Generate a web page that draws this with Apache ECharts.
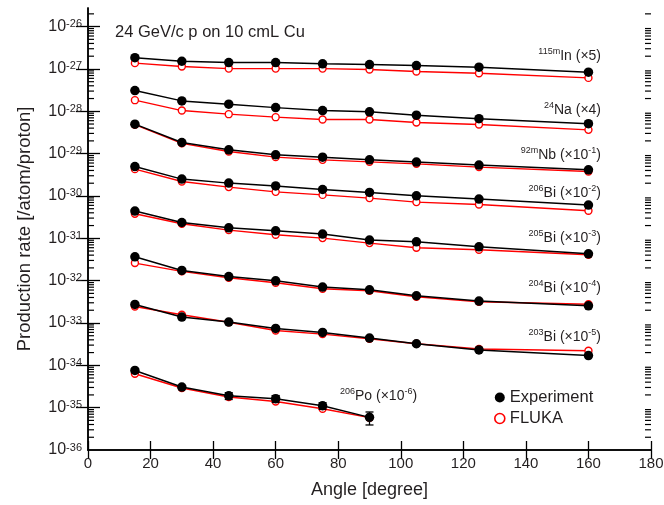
<!DOCTYPE html>
<html><head><meta charset="utf-8">
<script src="https://cdn.jsdelivr.net/npm/echarts@6/dist/echarts.min.js"></script>
<style>html,body{margin:0;padding:0;background:#fff}#c{width:664px;height:505px}</style>
</head><body><div id="c"></div>
<script>
const angles = [15, 30, 45, 60, 75, 90, 105, 125, 160];
const poAngles = [15, 30, 45, 60, 75, 90];

const in115Exp = [1.85e-27, 1.52e-27, 1.41e-27, 1.41e-27, 1.32e-27, 1.27e-27, 1.20e-27, 1.10e-27, 8.4e-28];
const in115Fluka = [1.37e-27, 1.14e-27, 1.02e-27, 1.02e-27, 1.02e-27, 9.7e-28, 8.7e-28, 7.9e-28, 6.15e-28];
const na24Exp = [3.08e-28, 1.76e-28, 1.47e-28, 1.22e-28, 1.04e-28, 9.7e-29, 8.1e-29, 6.7e-29, 5.1e-29];
const na24Fluka = [1.83e-28, 1.04e-28, 8.55e-29, 7.26e-29, 6.38e-29, 6.38e-29, 5.42e-29, 4.86e-29, 3.64e-29];
const nb92Exp = [4.97e-29, 1.83e-29, 1.23e-29, 9.36e-30, 8.26e-30, 7.13e-30, 6.30e-30, 5.35e-30, 4.14e-30];
const nb92Fluka = [4.83e-29, 1.75e-29, 1.12e-29, 8.26e-30, 7.13e-30, 6.40e-30, 5.74e-30, 4.80e-30, 3.78e-30];
const bi206Exp = [4.95e-30, 2.50e-30, 2.01e-30, 1.73e-30, 1.42e-30, 1.21e-30, 1.01e-30, 8.42e-31, 6.08e-31];
const bi206Fluka = [4.30e-30, 2.19e-30, 1.62e-30, 1.25e-30, 1.06e-30, 8.89e-31, 7.16e-31, 6.28e-31, 4.46e-31];
const bi205Exp = [4.39e-31, 2.36e-31, 1.77e-31, 1.50e-31, 1.26e-31, 9.06e-32, 8.26e-32, 6.30e-32, 4.31e-32];
const bi205Fluka = [3.79e-31, 2.20e-31, 1.56e-31, 1.21e-31, 1.01e-31, 7.71e-32, 5.97e-32, 5.35e-32, 4.08e-32];
const bi204Exp = [3.66e-32, 1.74e-32, 1.25e-32, 9.93e-33, 7.05e-33, 6.08e-33, 4.40e-33, 3.29e-33, 2.55e-33];
const bi204Fluka = [2.60e-32, 1.66e-32, 1.17e-32, 8.89e-33, 6.43e-33, 5.77e-33, 4.16e-33, 3.17e-33, 2.77e-33];
const bi203Exp = [2.74e-33, 1.38e-33, 1.05e-33, 7.43e-34, 5.97e-34, 4.41e-34, 3.23e-34, 2.31e-34, 1.70e-34];
const bi203Fluka = [2.45e-33, 1.56e-33, 1.04e-33, 6.66e-34, 5.47e-34, 4.24e-34, 3.23e-34, 2.42e-34, 2.21e-34];
const po206Exp = [7.57e-35, 3.07e-35, 1.91e-35, 1.63e-35, 1.11e-35, 5.9e-36];
const po206ExpErr = [0, 0, 3.5e-36, 3.0e-36, 2.0e-36, 2.0e-36];
const po206Fluka = [6.32e-35, 2.91e-35, 1.78e-35, 1.40e-35, 9.44e-36, 5.8e-36];

const xTicks = [0, 20, 40, 60, 80, 100, 120, 140, 160, 180];
const yMin = 1e-36, yMax = 2.75e-26;
const decadeExps = [-36, -35, -34, -33, -32, -31, -30, -29, -28, -27, -26];
const minorMults = [2, 3, 4, 5, 6, 7, 8, 9];

const isoLabels = [
  { sup: '115m', el: 'In', sc: ' (×5)', exp: null },
  { sup: '24', el: 'Na', sc: ' (×4)', exp: null },
  { sup: '92m', el: 'Nb', sc: ' (×10', exp: '-1' },
  { sup: '206', el: 'Bi', sc: ' (×10', exp: '-2' },
  { sup: '205', el: 'Bi', sc: ' (×10', exp: '-3' },
  { sup: '204', el: 'Bi', sc: ' (×10', exp: '-4' },
  { sup: '203', el: 'Bi', sc: ' (×10', exp: '-5' },
  { sup: '206', el: 'Po', sc: ' (×10', exp: '-6' }
];

const groups = [
  [angles, in115Exp, in115Fluka],
  [angles, na24Exp, na24Fluka],
  [angles, nb92Exp, nb92Fluka],
  [angles, bi206Exp, bi206Fluka],
  [angles, bi205Exp, bi205Fluka],
  [angles, bi204Exp, bi204Fluka],
  [angles, bi203Exp, bi203Fluka],
  [poAngles, po206Exp, po206Fluka]
];

const FONT = '"Liberation Sans", Arial, Helvetica, sans-serif';
const TXT = '#231f20';

const minorTicks = [];
decadeExps.forEach(e => minorMults.forEach(m => {
  const v = m * Math.pow(10, e);
  if (v <= yMax) minorTicks.push(v);
}));

const series = [];
groups.forEach(g => {
  const xs = g[0];
  series.push({
    type: 'line', name: 'FLUKA', z: 2,
    data: xs.map((a, i) => [a, g[2][i]]),
    symbol: 'circle', symbolSize: 7,
    itemStyle: { color: '#ffffff', borderColor: '#ff0000', borderWidth: 1.4 },
    lineStyle: { color: '#ff0000', width: 1.4 },
    emphasis: { disabled: true }
  });
});
groups.forEach(g => {
  const xs = g[0];
  series.push({
    type: 'line', name: 'Experiment', z: 3,
    data: xs.map((a, i) => [a, g[1][i]]),
    symbol: 'circle', symbolSize: 9.5,
    itemStyle: { color: '#000000' },
    lineStyle: { color: '#000000', width: 1.5 },
    emphasis: { disabled: true }
  });
});

// error bars for 206Po
series.push({
  type: 'custom', name: 'err', z: 4, silent: true,
  data: poAngles.map((a, i) => [a, po206Exp[i], po206ExpErr[i]]).filter(d => d[2] > 0),
  renderItem: function (params, api) {
    const x = api.value(0), v = api.value(1), e = api.value(2);
    const hi = api.coord([x, v + e]);
    const lo = api.coord([x, v - e]);
    const cw = 4;
    const st = { stroke: '#000', lineWidth: 1.3 };
    return {
      type: 'group', children: [
        { type: 'line', shape: { x1: hi[0], y1: hi[1], x2: lo[0], y2: lo[1] }, style: st },
        { type: 'line', shape: { x1: hi[0] - cw, y1: hi[1], x2: hi[0] + cw, y2: hi[1] }, style: st },
        { type: 'line', shape: { x1: lo[0] - cw, y1: lo[1], x2: lo[0] + cw, y2: lo[1] }, style: st }
      ]
    };
  }
});

// minor log ticks on left and right frame
series.push({
  type: 'custom', name: 'minor', z: 5, silent: true,
  data: minorTicks.map(v => [xTicks[0], v]),
  renderItem: function (params, api) {
    const v = api.value(1);
    const l = api.coord([xTicks[0], v]);
    const r = api.coord([xTicks[xTicks.length - 1], v]);
    const st = { stroke: '#000', lineWidth: 1.2 };
    return {
      type: 'group', children: [
        { type: 'line', shape: { x1: l[0], y1: l[1], x2: l[0] + 6, y2: l[1] }, style: st },
        { type: 'line', shape: { x1: r[0] - 6, y1: r[1], x2: r[0], y2: r[1] }, style: st }
      ]
    };
  }
});

const labelYs = [56.5, 110, 155, 193.5, 238.5, 288.5, 337, 396.5];
const graphics = [{
  type: 'text', left: 115, top: 24,
  style: { text: '24 GeV/c p on 10 cmL Cu', font: '16.5px ' + FONT, fill: TXT }
}, {
  type: 'text', x: 25, y: 229, rotation: Math.PI / 2,
  style: { text: 'Production rate [/atom/proton]', font: '18.5px ' + FONT, fill: TXT,
    align: 'center', verticalAlign: 'middle' }
}];
isoLabels.forEach((L, i) => {
  let t = '{s|' + L.sup + '}{b|' + L.el + L.sc + '}';
  if (L.exp) t += '{s|' + L.exp + '}{b|)}';
  const isPo = i === isoLabels.length - 1;
  graphics.push({
    type: 'text', x: isPo ? 340 : 601, y: labelYs[i],
    style: {
      text: t, align: isPo ? 'left' : 'right', verticalAlign: 'middle',
      rich: {
        b: { fontSize: 14, fontFamily: FONT, fill: TXT, lineHeight: 18 },
        s: { fontSize: 9, fontFamily: FONT, fill: TXT, verticalAlign: 'top' }
      }
    }
  });
});

const yRich = {
  b: { fontSize: 16, fontFamily: FONT, color: TXT, fill: TXT, lineHeight: 16 },
  s: { fontSize: 11, fontFamily: FONT, color: TXT, fill: TXT, verticalAlign: 'top', lineHeight: 11 }
};
const decadeLabel = function (v) {
  return '{b|10}{s|' + Math.round(Math.log10(v)) + '}';
};
// the log scale hands its end ticks over as 0; the min label is added separately below
const yLabelFmt = function (v) {
  if (!(v > 0)) return '';
  const lg = Math.log10(v);
  if (Math.abs(lg - Math.round(lg)) > 0.01) return '';
  return decadeLabel(v);
};

const baseX = {
  type: 'value', min: xTicks[0], max: xTicks[xTicks.length - 1], interval: 20,
  axisLine: { show: true, lineStyle: { color: '#000', width: 1.5 } },
  axisTick: { show: true, inside: true, length: 9, lineStyle: { color: '#000', width: 1.3 } },
  splitLine: { show: false }
};
const baseY = {
  type: 'log', logBase: 10, min: yMin, max: yMax, interval: 1, splitNumber: 10,
  axisLine: { show: true, lineStyle: { color: '#000', width: 1.5 } },
  axisTick: { show: true, inside: true, length: 12, lineStyle: { color: '#000', width: 1.3 } },
  splitLine: { show: false }
};

const option = {
  animation: false,
  backgroundColor: '#fff',
  grid: { left: 88, right: 13, top: 8, bottom: 55, containLabel: false, outerBoundsMode: 'none' },
  xAxis: [
    Object.assign({}, baseX, {
      position: 'bottom',
      name: 'Angle [degree]', nameLocation: 'middle', nameGap: 31,
      nameTextStyle: { fontSize: 18, fontFamily: FONT, color: TXT },
      axisLabel: { fontSize: 15, fontFamily: FONT, color: TXT, margin: 6, showMinLabel: true, showMaxLabel: true, hideOverlap: false }
    }),
    Object.assign({}, baseX, { position: 'top', axisLabel: { show: false } })
  ],
  yAxis: [
    Object.assign({}, baseY, {
      position: 'left',
      axisLabel: {
        margin: 6, formatter: yLabelFmt, showMinLabel: true, showMaxLabel: false, hideOverlap: false,
        rich: yRich
      }
    }),
    Object.assign({}, baseY, { position: 'right', axisLabel: { show: false } })
  ],
  legend: {
    left: 489, top: 384, orient: 'vertical', selectedMode: false,
    itemWidth: 10, itemHeight: 10, itemGap: 4,
    textStyle: { fontSize: 16.5, fontFamily: FONT, color: TXT },
    data: [
      { name: 'Experiment', icon: 'circle', itemStyle: { color: '#000' } },
      { name: 'FLUKA', icon: 'circle', itemStyle: { color: '#fff', borderColor: '#ff0000', borderWidth: 1.6 } }
    ]
  },
  graphic: graphics,
  series: series
};

const chart = echarts.init(document.getElementById('c'), null, { renderer: 'canvas' });
chart.setOption(option);

// label for the bottom decade, placed through the axis scale
const minPx = chart.convertToPixel({ yAxisIndex: 0 }, yMin);
const leftPx = chart.convertToPixel({ xAxisIndex: 0 }, xTicks[0]);
graphics.push({
  type: 'text', x: leftPx - 6, y: minPx,
  style: { text: decadeLabel(yMin), align: 'right', verticalAlign: 'middle', rich: yRich }
});
chart.setOption({ graphic: graphics });
</script>
</body></html>
